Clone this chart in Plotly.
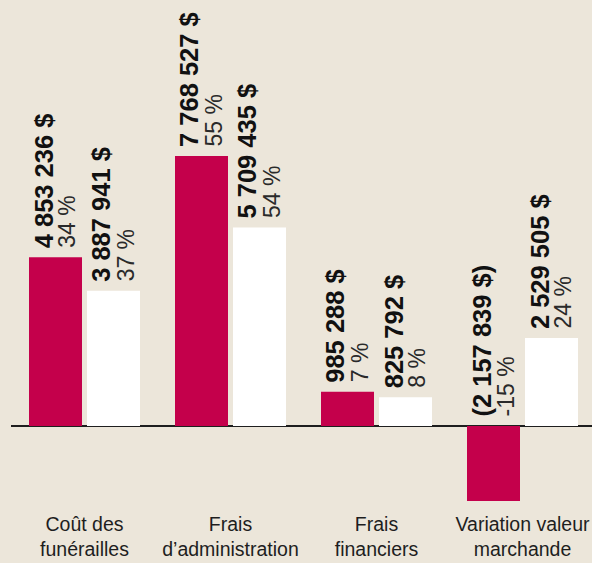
import plotly.graph_objects as go

categories = ["Coût des<br>funérailles", "Frais<br>d’administration", "Frais<br>financiers", "Variation valeur<br>marchande"]
series_a = [4853236, 7768527, 985288, -2157839]
series_a_pct = [34, 55, 7, -15]
series_b = [3887941, 5709435, 825792, 2529505]
series_b_pct = [37, 54, 8, 24]

BG = "#ece6da"
RED = "#c4004b"
WHITE = "#ffffff"

W, H = 592, 563
L, R, T, B = 11, 0, 0, 53
SPACING = 146.0          # px between category centres
BAR_W = 53 / SPACING     # bar width in category units
GAP = 5 / SPACING
OFF_A = -(BAR_W + GAP / 2)
OFF_B = GAP / 2
PX_PER_UNIT = 28770.0    # dollars per pixel
ZERO_FROM_TOP = 426
plot_h = H - T - B
y_max = ZERO_FROM_TOP * PX_PER_UNIT
y_min = -(plot_h - ZERO_FROM_TOP) * PX_PER_UNIT
first_centre = 84.5
x_lo = (L - first_centre) / SPACING
x_hi = (W - R - first_centre) / SPACING


def fmt_money(v):
    s = f"{abs(v):,}".replace(",", " ")
    return f"({s} $)" if v < 0 else f"{s} $"


xs = list(range(len(categories)))
fig = go.Figure()
fig.add_trace(go.Bar(x=xs, y=series_a, marker=dict(color=RED, line=dict(width=0)),
                     offset=OFF_A, width=BAR_W, hoverinfo="skip"))
fig.add_trace(go.Bar(x=xs, y=series_b, marker=dict(color=WHITE, line=dict(width=0)),
                     offset=OFF_B, width=BAR_W, hoverinfo="skip"))

annotations = []
for vals, pcts, off in ((series_a, series_a_pct, OFF_A), (series_b, series_b_pct, OFF_B)):
    for i, (v, p) in enumerate(zip(vals, pcts)):
        xc = i + off + BAR_W / 2
        yb = max(v, 0)
        annotations.append(dict(x=xc, y=yb, xref="x", yref="y", text="<b>" + fmt_money(v) + "</b>",
                                textangle=-90, showarrow=False, xanchor="center", yanchor="bottom",
                                xshift=-12, yshift=8, borderpad=0,
                                font=dict(family="Liberation Sans", size=25.5, color="#111111")))
        annotations.append(dict(x=xc, y=yb, xref="x", yref="y", text=f"{p} %",
                                textangle=-90, showarrow=False, xanchor="center", yanchor="bottom",
                                xshift=12, yshift=8, borderpad=0,
                                font=dict(family="Liberation Sans", size=23, color="#2a2a2a")))

fig.update_layout(
    width=W, height=H,
    margin=dict(l=L, r=R, t=T, b=B, pad=0),
    paper_bgcolor=BG, plot_bgcolor=BG,
    showlegend=False,
    barmode="group",
    annotations=annotations,
    xaxis=dict(range=[x_lo, x_hi], tickmode="array", tickvals=xs, ticktext=categories,
               showgrid=False, zeroline=False, showline=False, ticks="",
               tickfont=dict(family="Liberation Sans", size=19.5, color="#1e1e1e")),
    yaxis=dict(range=[y_min, y_max], showgrid=False, showticklabels=False, ticks="",
               zeroline=True, zerolinecolor="#1e1e1e", zerolinewidth=2, showline=False),
)

fig.write_html("out.html", config={"displayModeBar": False},
               post_script="document.body.style.margin='0';document.body.style.overflow='hidden';")
